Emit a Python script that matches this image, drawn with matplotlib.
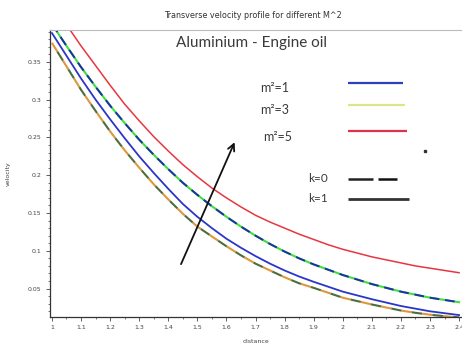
import matplotlib
matplotlib.use("Agg")
import matplotlib.pyplot as plt
from matplotlib.ticker import MultipleLocator, FuncFormatter

# distance values (x axis), read every 0.05
distance = [1.0, 1.05, 1.1, 1.15, 1.2, 1.25, 1.3, 1.35, 1.4, 1.45, 1.5, 1.55, 1.6, 1.65, 1.7,
            1.75, 1.8, 1.85, 1.9, 1.95, 2.0, 2.05, 2.1, 2.15, 2.2, 2.25, 2.3, 2.35, 2.4]

# velocity
vel_red = [0.428, 0.399, 0.371, 0.345, 0.319, 0.294, 0.272, 0.251, 0.232, 0.214, 0.198, 0.183,
           0.170, 0.158, 0.147, 0.138, 0.130, 0.122, 0.115, 0.108, 0.102, 0.097, 0.092, 0.088,
           0.084, 0.080, 0.077, 0.074, 0.071]
vel_mid = [0.400, 0.371, 0.343, 0.317, 0.292, 0.269, 0.247, 0.227, 0.208, 0.190, 0.174, 0.159,
           0.145, 0.132, 0.120, 0.109, 0.099, 0.090, 0.082, 0.075, 0.068, 0.062, 0.056, 0.051,
           0.046, 0.042, 0.038, 0.035, 0.032]
vel_blue = [0.388, 0.358, 0.328, 0.300, 0.274, 0.249, 0.225, 0.203, 0.182, 0.162, 0.145, 0.130,
            0.116, 0.104, 0.093, 0.083, 0.074, 0.066, 0.059, 0.0525, 0.046, 0.041, 0.036, 0.0315,
            0.027, 0.0235, 0.020, 0.0175, 0.015]
vel_low = [0.375, 0.344, 0.313, 0.285, 0.258, 0.233, 0.210, 0.188, 0.168, 0.149, 0.132, 0.119,
           0.106, 0.094, 0.083, 0.074, 0.065, 0.057, 0.051, 0.0445, 0.038, 0.0335, 0.029, 0.025,
           0.021, 0.018, 0.0155, 0.0135, 0.012]

legend_m = ["m\u00b2=1", "m\u00b2=3", "m\u00b2=5"]
legend_m_colors = ["#2b3fbf", "#dde58a", "#e0324a"]

fig = plt.figure(figsize=(4.62, 3.49), dpi=100)
ax = fig.add_axes([0.108, 0.092, 0.892, 0.822])

ax.plot(distance, vel_red, color="#e8363f", lw=1.1)
ax.plot(distance, vel_mid, color="#3ee03e", lw=1.5)
ax.plot(distance, vel_mid, color="#1f2fa8", lw=1.4, dashes=(5, 3))
ax.plot(distance, vel_blue, color="#2b35c8", lw=1.3)
ax.plot(distance, vel_low, color="#e0963a", lw=1.5, dashes=(5, 5))
ax.plot(distance, vel_low, color="#4d6e3c", lw=1.5, linestyle=(5, (5, 5)))

ax.set_xlim(0.993, 2.41)
ax.set_ylim(0.0126, 0.392)

ax.xaxis.set_major_locator(MultipleLocator(0.1))
ax.xaxis.set_minor_locator(MultipleLocator(0.05))
ax.yaxis.set_major_locator(MultipleLocator(0.05))
ax.yaxis.set_minor_locator(MultipleLocator(0.01))
ax.xaxis.set_major_formatter(FuncFormatter(lambda v, p: "%g" % round(v, 2)))
ax.yaxis.set_major_formatter(FuncFormatter(lambda v, p: "%g" % round(v, 2)))
ax.tick_params(which="major", length=3, width=0.6, labelsize=4.5, colors="#444444", pad=3)
ax.tick_params(which="minor", length=1.5, width=0.5, colors="#444444")

for side in ["left", "bottom"]:
    ax.spines[side].set_color("#333333")
    ax.spines[side].set_linewidth(0.9)
ax.spines["top"].set_color("#bbbbbb")
ax.spines["top"].set_linewidth(0.8)
ax.spines["right"].set_visible(False)

ax.set_xlabel("distance", fontsize=4.5, color="#444444", labelpad=6)
ax.set_ylabel("velocity", fontsize=4.5, color="#444444", labelpad=12)
fig.text(0.548, 0.955, "Transverse velocity profile for different M^2", fontsize=5.8,
         color="#333333", ha="center", va="center")

# annotation drawn inside the plot
ax.text(0.49, 0.955, "Aluminium - Engine oil", transform=ax.transAxes, fontsize=11,
        family="Lato", color="#3a3a3a", ha="center", va="center")

text_x = [0.51, 0.51, 0.517]
text_y = [0.798, 0.721, 0.627]
line_y = [0.815, 0.739, 0.648]
line_end = [0.857, 0.862, 0.867]
for lab, col, tx, ty, ly, le in zip(legend_m, legend_m_colors, text_x, text_y, line_y, line_end):
    ax.text(tx, ty, lab, transform=ax.transAxes, fontsize=9, family="Lato",
            color="#3a3a3a", va="center")
    ax.plot([0.723, le], [ly, ly], transform=ax.transAxes, color=col, lw=1.6,
            solid_capstyle="butt")

ax.text(0.626, 0.484, "k=0", transform=ax.transAxes, fontsize=8.5, family="Lato",
        color="#3a3a3a", va="center")
ax.plot([0.723, 0.784], [0.481, 0.481], transform=ax.transAxes, color="#222222", lw=1.8,
        solid_capstyle="butt")
ax.plot([0.796, 0.842], [0.481, 0.481], transform=ax.transAxes, color="#111111", lw=1.8,
        solid_capstyle="butt")
ax.text(0.626, 0.411, "k=1", transform=ax.transAxes, fontsize=8.5, family="Lato",
        color="#3a3a3a", va="center")
ax.plot([0.723, 0.871], [0.411, 0.411], transform=ax.transAxes, color="#333333", lw=2.0,
        solid_capstyle="butt")
ax.plot([0.910], [0.578], "s", transform=ax.transAxes, color="#333333", ms=1.5)

ax.annotate("", xy=(1.632, 0.247), xytext=(1.44, 0.079),
            arrowprops=dict(arrowstyle="->", color="#111111", lw=1.3, mutation_scale=12))

fig.savefig("out.png", dpi=100)
